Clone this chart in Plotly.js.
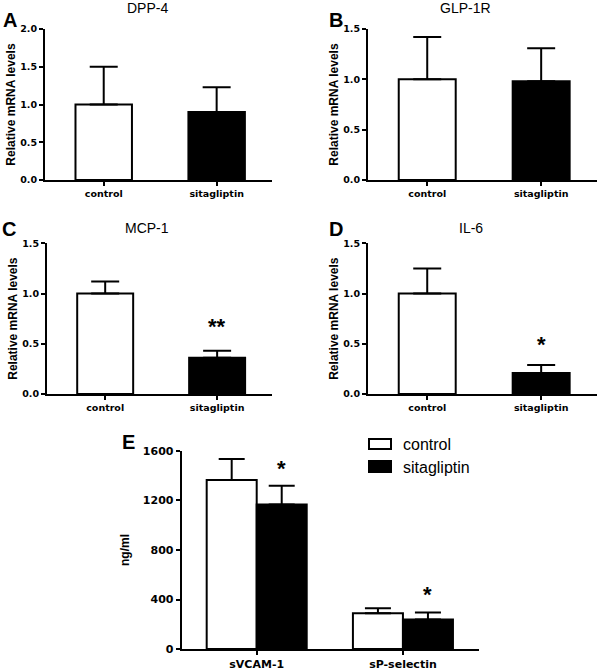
<!DOCTYPE html>
<html>
<head>
<meta charset="utf-8">
<script src="https://cdn.plot.ly/plotly-3.0.1.min.js"></script>
<style>html,body{margin:0;padding:0;background:#fff;}#chart{width:600px;height:670px;}</style>
</head>
<body>
<div id="chart"></div>
<script>
// ---- data ----
const groups = ['control', 'sitagliptin'];
const dppMean = [1.0, 0.9];
const dppErr = [0.5, 0.33];
const glpMean = [1.0, 0.98];
const glpErr = [0.42, 0.33];
const mcpMean = [1.0, 0.36];
const mcpErr = [0.12, 0.07];
const il6Mean = [1.0, 0.21];
const il6Err = [0.25, 0.08];
const markers = ['sVCAM-1', 'sP-selectin'];
const controlMean = [1365, 290];
const controlErr = [170, 40];
const sitaMean = [1168, 238];
const sitaErr = [152, 57];
const zeros = [0, 0];

const FONT = 'Arial, "Liberation Sans", Helvetica, sans-serif';
const TICKFONT = '"DejaVu Sans", Verdana, sans-serif';
const fills = ['#ffffff', '#000000'];

function panelTrace(mean, err, xa, ya) {
  return {
    type: 'bar', x: groups, y: mean, xaxis: xa, yaxis: ya, width: 0.5,
    marker: {color: fills, line: {color: '#000', width: 2}},
    error_y: {type: 'data', array: err, arrayminus: zeros, symmetric: false, color: '#000', thickness: 2, width: 14},
    showlegend: false, hoverinfo: 'x+y'
  };
}

const traces = [
  panelTrace(dppMean, dppErr, 'x', 'y'),
  panelTrace(glpMean, glpErr, 'x2', 'y2'),
  panelTrace(mcpMean, mcpErr, 'x3', 'y3'),
  panelTrace(il6Mean, il6Err, 'x4', 'y4'),
  {type: 'bar', name: 'control', x: markers, y: controlMean, xaxis: 'x5', yaxis: 'y5',
   marker: {color: '#fff', line: {color: '#000', width: 2}},
   error_y: {type: 'data', array: controlErr, arrayminus: zeros, symmetric: false, color: '#000', thickness: 2, width: 13},
   showlegend: false},
  {type: 'bar', name: 'sitagliptin', x: markers, y: sitaMean, xaxis: 'x5', yaxis: 'y5',
   marker: {color: '#000', line: {color: '#000', width: 2}},
   error_y: {type: 'data', array: sitaErr, arrayminus: zeros, symmetric: false, color: '#000', thickness: 2, width: 13},
   showlegend: false}
];

function xax(domain, anchor, size) {
  return {domain: domain, anchor: anchor, type: 'category', range: [-0.52, 1.49],
    showline: true, linecolor: '#000', linewidth: 2, ticks: 'outside', ticklen: 4, tickwidth: 2, tickcolor: '#000',
    showgrid: false, zeroline: false, fixedrange: true,
    tickfont: {family: TICKFONT, size: size, color: '#000', weight: 'bold'}};
}
function yax(domain, anchor, range, dtick, fmt, title, size, tsize, standoff) {
  return {domain: domain, anchor: anchor, range: range, dtick: dtick, tick0: 0, tickformat: fmt,
    showline: true, linecolor: '#000', linewidth: 2, ticks: 'outside', ticklen: 4, tickwidth: 2, tickcolor: '#000',
    showgrid: false, zeroline: false, fixedrange: true,
    tickfont: {family: TICKFONT, size: size, color: '#000', weight: 'bold'},
    title: {text: title, font: {family: FONT, size: tsize, color: '#000', weight: 'bold'}, standoff: standoff}};
}

const yTopRow = [0.7313, 0.9567];
const yMidRow = [0.4119, 0.6369];

const layout = {
  width: 600, height: 670,
  margin: {l: 0, r: 0, t: 0, b: 0},
  paper_bgcolor: '#fff', plot_bgcolor: '#fff',
  barmode: 'group', bargap: 0.316, bargroupgap: 0,
  font: {family: FONT, color: '#000'},
  showlegend: false,
  xaxis: xax([0.075, 0.4533], 'y', 9.5),
  yaxis: yax(yTopRow, 'x', [0, 2], 0.5, '.1f', 'Relative mRNA levels', 9.5, 12, 2),
  xaxis2: xax([0.6133, 0.995], 'y2', 9.5),
  yaxis2: yax(yTopRow, 'x2', [0, 1.5], 0.5, '.1f', 'Relative mRNA levels', 9.5, 12, 2),
  xaxis3: xax([0.0783, 0.4533], 'y3', 9.5),
  yaxis3: yax(yMidRow, 'x3', [0, 1.5], 0.5, '.1f', 'Relative mRNA levels', 9.5, 12, 2),
  xaxis4: xax([0.6133, 0.995], 'y4', 9.5),
  yaxis4: yax(yMidRow, 'x4', [0, 1.5], 0.5, '.1f', 'Relative mRNA levels', 9.5, 12, 2),
  xaxis5: Object.assign(xax([0.3028, 0.7983], 'y5', 11), {range: [-0.513, 1.52]}),
  yaxis5: yax([0.0313, 0.3269], 'x5', [0, 1600], 400, 'd', 'ng/ml', 11, 12, 11),
  shapes: [
    {type: 'rect', xref: 'paper', yref: 'paper', x0: 369/600, x1: 391/600, y0: 1 - 449/670, y1: 1 - 439/670,
     line: {color: '#000', width: 2}, fillcolor: '#fff'},
    {type: 'rect', xref: 'paper', yref: 'paper', x0: 369/600, x1: 391/600, y0: 1 - 472/670, y1: 1 - 461/670,
     line: {color: '#000', width: 2}, fillcolor: '#000'}
  ],
  annotations: [
    // subplot titles
    {text: 'DPP-4', xref: 'paper', yref: 'paper', x: 147/600, y: 1 - 8/670, xanchor: 'center', yanchor: 'middle', showarrow: false, font: {size: 14}},
    {text: 'GLP-1R', xref: 'paper', yref: 'paper', x: 465/600, y: 1 - 8/670, xanchor: 'center', yanchor: 'middle', showarrow: false, font: {size: 14}},
    {text: 'MCP-1', xref: 'paper', yref: 'paper', x: 147/600, y: 1 - 228/670, xanchor: 'center', yanchor: 'middle', showarrow: false, font: {size: 14}},
    {text: 'IL-6', xref: 'paper', yref: 'paper', x: 471/600, y: 1 - 228/670, xanchor: 'center', yanchor: 'middle', showarrow: false, font: {size: 14}},
    // panel letters
    {text: 'A', xref: 'paper', yref: 'paper', x: 10/600, y: 1 - 20/670, xanchor: 'center', yanchor: 'middle', showarrow: false, font: {size: 20, weight: 'bold'}},
    {text: 'B', xref: 'paper', yref: 'paper', x: 336/600, y: 1 - 20/670, xanchor: 'center', yanchor: 'middle', showarrow: false, font: {size: 20, weight: 'bold'}},
    {text: 'C', xref: 'paper', yref: 'paper', x: 9/600, y: 1 - 229/670, xanchor: 'center', yanchor: 'middle', showarrow: false, font: {size: 20, weight: 'bold'}},
    {text: 'D', xref: 'paper', yref: 'paper', x: 336/600, y: 1 - 229/670, xanchor: 'center', yanchor: 'middle', showarrow: false, font: {size: 20, weight: 'bold'}},
    {text: 'E', xref: 'paper', yref: 'paper', x: 128/600, y: 1 - 442/670, xanchor: 'center', yanchor: 'middle', showarrow: false, font: {size: 20, weight: 'bold'}},
    // significance stars
    {text: '**', xref: 'x3', yref: 'y3', x: 'sitagliptin', y: 0.67, xanchor: 'center', yanchor: 'middle', showarrow: false, font: {size: 22, weight: 'bold'}},
    {text: '*', xref: 'x4', yref: 'y4', x: 'sitagliptin', y: 0.49, xanchor: 'center', yanchor: 'middle', showarrow: false, font: {size: 22, weight: 'bold'}},
    {text: '*', xref: 'x5', yref: 'y5', x: 'sVCAM-1', xshift: 25, y: 1457, xanchor: 'center', yanchor: 'middle', showarrow: false, font: {size: 22, weight: 'bold'}},
    {text: '*', xref: 'x5', yref: 'y5', x: 'sP-selectin', xshift: 25, y: 438, xanchor: 'center', yanchor: 'middle', showarrow: false, font: {size: 22, weight: 'bold'}},
    // legend text
    {text: 'control', xref: 'paper', yref: 'paper', x: 401/600, y: 1 - 444/670, xanchor: 'left', yanchor: 'middle', showarrow: false, font: {size: 16}},
    {text: 'sitagliptin', xref: 'paper', yref: 'paper', x: 401/600, y: 1 - 467/670, xanchor: 'left', yanchor: 'middle', showarrow: false, font: {size: 16}}
  ]
};

Plotly.newPlot('chart', traces, layout, {staticPlot: true, displayModeBar: false});
</script>
</body>
</html>
